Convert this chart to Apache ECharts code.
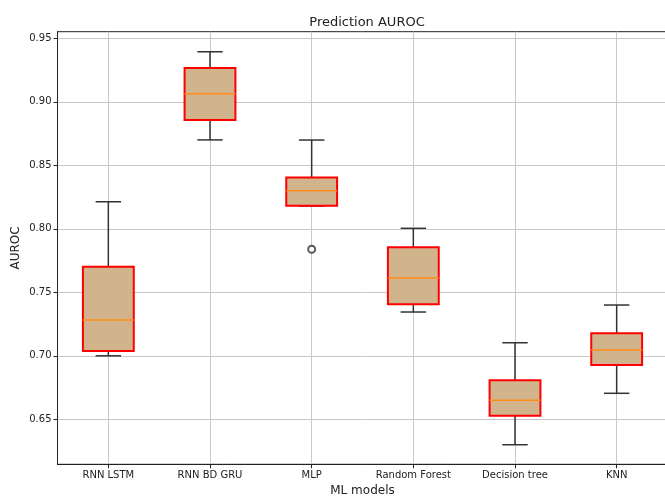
<!DOCTYPE html>
<html>
<head>
<meta charset="utf-8">
<script src="https://cdn.jsdelivr.net/npm/echarts@6/dist/echarts.min.js"></script>
<style>
  html, body { margin: 0; padding: 0; background: #fff; }
  #chart { width: 665px; height: 496px; }
</style>
</head>
<body>
<div id="chart"></div>
<script>
// models on the x axis
const models = ['RNN LSTM', 'RNN BD GRU', 'MLP', 'Random Forest', 'Decision tree', 'KNN'];
// box stats: whisker low, q1, median, q3, whisker high
const whiskerLow = [0.700, 0.870, 0.818, 0.7345, 0.630, 0.6705];
const q1 = [0.7038, 0.8857, 0.8182, 0.7406, 0.6529, 0.6928];
const median = [0.7282, 0.9064, 0.830, 0.7613, 0.665, 0.7046];
const q3 = [0.7702, 0.9266, 0.8405, 0.7854, 0.6807, 0.7177];
const whiskerHigh = [0.8213, 0.9394, 0.8699, 0.8004, 0.7103, 0.740];
// outliers: [model index, value]
const outliers = [[2, 0.7839]];
const yTicks = [0.65, 0.70, 0.75, 0.80, 0.85, 0.90, 0.95];

const boxData = models.map((m, i) => [i + 1, whiskerLow[i], q1[i], median[i], q3[i], whiskerHigh[i]]);
const outlierData = outliers.map(o => [o[0] + 1, o[1]]);

const font = 'DejaVu Sans';

function renderBox(params, api) {
  const x = api.value(0);
  const low = api.coord([x, api.value(1)]);
  const bq1 = api.coord([x, api.value(2)]);
  const med = api.coord([x, api.value(3)]);
  const bq3 = api.coord([x, api.value(4)]);
  const high = api.coord([x, api.value(5)]);
  const unit = api.size([1, 0])[0];
  const hb = unit * 0.25;   // half box width
  const hc = unit * 0.125;  // half cap width
  const cx = low[0];
  const wStyle = { stroke: '#333', lineWidth: 1.5 };
  return {
    type: 'group',
    children: [
      { type: 'line', shape: { x1: cx, y1: bq1[1], x2: cx, y2: low[1] }, style: wStyle },
      { type: 'line', shape: { x1: cx, y1: bq3[1], x2: cx, y2: high[1] }, style: wStyle },
      { type: 'line', shape: { x1: cx - hc, y1: low[1], x2: cx + hc, y2: low[1] }, style: wStyle },
      { type: 'line', shape: { x1: cx - hc, y1: high[1], x2: cx + hc, y2: high[1] }, style: wStyle },
      { type: 'rect', shape: { x: cx - hb, y: bq3[1], width: hb * 2, height: bq1[1] - bq3[1] },
        style: { fill: '#D2B48C', stroke: '#FF0000', lineWidth: 2 } },
      { type: 'line', shape: { x1: cx - hb, y1: med[1], x2: cx + hb, y2: med[1] },
        style: { stroke: '#FF8C1A', lineWidth: 1.5 } }
    ]
  };
}

const chart = echarts.init(document.getElementById('chart'), null, { renderer: 'canvas' });
chart.setOption({
  backgroundColor: '#fff',
  animation: false,
  title: {
    text: 'Prediction AUROC',
    left: 362, top: 11,
    textAlign: 'center',
    textStyle: { fontFamily: font, fontSize: 13, fontWeight: 'normal', color: '#222' }
  },
  grid: {
    left: 57.5, top: 31.7, width: 610, height: 432.6,
    show: true, borderColor: '#222', borderWidth: 1,
    containLabel: false, outerBoundsMode: 'none'
  },
  xAxis: {
    type: 'value',
    min: 0.5, max: 6.5,
    name: 'ML models',
    nameLocation: 'middle',
    nameGap: 19,
    nameTextStyle: { fontFamily: font, fontSize: 12, color: '#222' },
    axisLine: { show: true, onZero: false, lineStyle: { color: '#222' } },
    axisTick: { show: true, length: 4, customValues: [1, 2, 3, 4, 5, 6], lineStyle: { color: '#222' } },
    axisLabel: {
      customValues: [1, 2, 3, 4, 5, 6],
      formatter: v => models[Math.round(v) - 1] || '',
      fontFamily: font, fontSize: 10, color: '#222', margin: 6
    },
    splitLine: { show: true, lineStyle: { color: '#c8c8c8', width: 1 } }
  },
  yAxis: {
    type: 'value',
    min: 0.6146, max: 0.9552,
    name: 'AUROC',
    nameLocation: 'middle',
    nameGap: 36,
    nameMoveOverlap: false,
    nameTextStyle: { fontFamily: font, fontSize: 12, color: '#222' },
    axisLine: { show: true, lineStyle: { color: '#222' } },
    axisTick: { show: true, length: 4, customValues: yTicks, lineStyle: { color: '#222' } },
    axisLabel: {
      customValues: yTicks,
      formatter: v => v.toFixed(2),
      fontFamily: font, fontSize: 10, color: '#222', margin: 6
    },
    splitLine: { show: true, lineStyle: { color: '#c8c8c8', width: 1 } }
  },
  series: [
    {
      type: 'custom',
      renderItem: renderBox,
      encode: { x: 0, y: [1, 2, 3, 4, 5] },
      data: boxData,
      z: 3
    },
    {
      type: 'scatter',
      data: outlierData,
      symbol: 'emptyCircle',
      symbolSize: 7,
      itemStyle: { color: '#333', borderWidth: 1.2 },
      z: 4
    }
  ]
});
</script>
</body>
</html>
